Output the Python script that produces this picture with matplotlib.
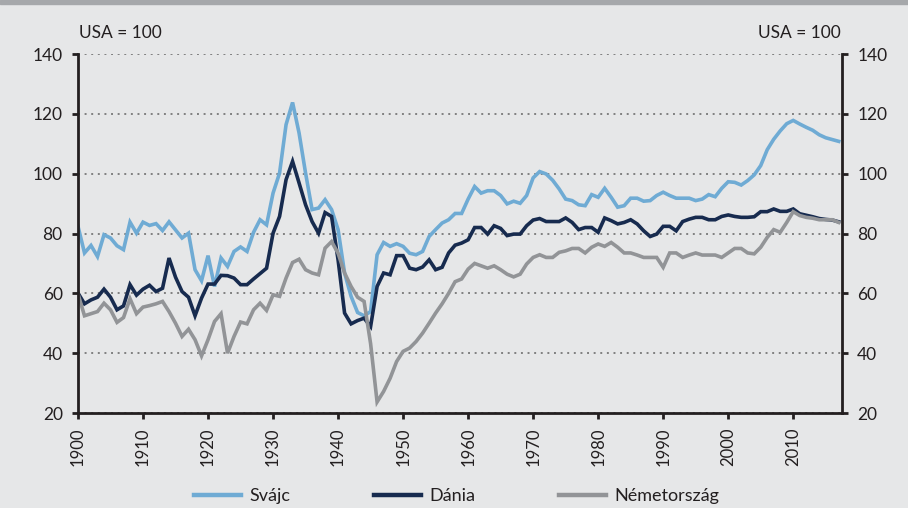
import numpy as np
import matplotlib.pyplot as plt
from matplotlib.patches import Rectangle

# GDP per capita relative to the USA (USA = 100), 1900-2017
years = np.arange(1900, 2018)

svajc = [82.4, 73.5, 76.0, 72.3, 79.6, 78.5, 75.9, 74.6, 83.8, 80.1,
         83.8, 82.7, 83.3, 81.0, 83.9, 81.2, 78.5, 80.1, 67.9, 64.2,
         72.6, 62.3, 71.8, 69.0, 74.0, 75.5, 74.0, 80.4, 84.6, 82.9,
         93.5, 100.2, 116.4, 123.8, 113.6, 100.2, 88.0, 88.5, 91.3, 88.0,
         81.3, 66.8, 59.0, 53.6, 52.5, 53.9, 72.9, 77.0, 75.7, 76.6,
         75.7, 73.4, 72.9, 74.0, 79.0, 81.3, 83.5, 84.6, 86.7, 86.7,
         91.5, 95.7, 93.5, 94.3, 94.3, 92.7, 89.9, 90.8, 90.1, 92.7,
         98.6, 100.7, 99.9, 97.8, 94.9, 91.5, 91.0, 89.6, 89.3, 93.0,
         92.1, 95.1, 92.1, 88.8, 89.3, 91.8, 91.8, 90.8, 91.0, 92.7,
         93.8, 92.7, 91.8, 91.8, 91.8, 91.0, 91.5, 93.0, 92.3, 95.1,
         97.3, 97.1, 96.2, 97.7, 99.6, 102.7, 108.0, 111.5, 114.3, 116.7,
         117.8, 116.6, 115.5, 114.5, 113.0, 112.0, 111.4, 110.8]

dania = [60.1, 56.5, 57.8, 58.7, 61.4, 58.7, 54.5, 55.8, 62.9, 59.4,
         61.4, 62.7, 60.6, 61.7, 71.8, 65.4, 60.6, 58.7, 52.5, 58.4,
         63.1, 63.1, 66.0, 65.9, 65.1, 62.9, 62.9, 64.8, 66.6, 68.4,
         80.1, 85.7, 98.0, 104.1, 96.9, 89.6, 84.0, 80.1, 87.0, 85.7,
         71.2, 53.4, 49.8, 50.9, 51.7, 48.9, 62.3, 66.8, 66.2, 72.6,
         72.6, 68.4, 67.9, 68.8, 71.2, 67.9, 68.7, 73.5, 76.1, 76.8,
         77.9, 82.0, 82.0, 79.8, 82.6, 81.7, 79.3, 79.8, 79.8, 82.6,
         84.5, 85.0, 84.0, 84.0, 84.0, 85.2, 83.7, 81.3, 82.0, 82.0,
         80.4, 85.2, 84.3, 83.2, 83.7, 84.6, 83.2, 80.9, 79.0, 79.8,
         82.4, 82.4, 80.9, 84.0, 84.8, 85.4, 85.4, 84.6, 84.6, 85.7,
         86.2, 85.7, 85.4, 85.4, 85.6, 87.3, 87.3, 88.2, 87.4, 87.4,
         88.2, 86.6, 86.1, 85.6, 85.0, 84.7, 84.5, 83.9]

nemet = [59.8, 52.5, 53.2, 53.9, 56.7, 54.5, 50.3, 51.9, 58.2, 53.2,
         55.4, 55.9, 56.5, 57.3, 53.9, 50.0, 45.6, 48.0, 44.5, 39.1,
         44.5, 50.6, 53.2, 40.0, 45.6, 50.4, 49.8, 54.5, 56.7, 54.3,
         59.5, 59.0, 65.1, 70.3, 71.4, 67.9, 66.8, 66.2, 75.1, 77.3,
         73.4, 66.8, 62.3, 58.7, 57.3, 43.2, 23.7, 27.2, 31.6, 37.2,
         40.6, 41.7, 43.9, 46.7, 50.0, 53.4, 56.5, 60.0, 63.9, 64.8,
         68.1, 70.0, 69.2, 68.4, 69.2, 67.9, 66.4, 65.5, 66.4, 69.8,
         72.0, 72.9, 72.0, 72.0, 73.7, 74.2, 75.0, 75.0, 73.5, 75.4,
         76.5, 75.7, 77.0, 75.4, 73.5, 73.5, 72.8, 72.0, 72.0, 72.0,
         68.7, 73.5, 73.5, 72.0, 72.8, 73.5, 72.8, 72.8, 72.8, 72.0,
         73.5, 75.0, 75.0, 73.5, 73.2, 75.4, 78.7, 81.3, 80.4, 83.7,
         87.3, 86.0, 85.4, 85.1, 84.6, 84.6, 84.6, 83.7]

labels = ['Svájc', 'Dánia', 'Németország']
colors = ['#6fabd4', '#172b4f', '#929497']

plt.rcParams['font.family'] = ['Lato', 'DejaVu Sans']
bg = '#e6e7e8'
dark = '#231f20'

fig = plt.figure(figsize=(9.08, 5.08), dpi=100)
fig.patch.set_facecolor(bg)
ax = fig.add_axes([0.0859, 0.187, 0.8414, 0.7067])
ax.set_facecolor(bg)

# thin grey band on the top edge
fig.patches.append(Rectangle((0, 1 - 4 / 508), 1, 4 / 508, transform=fig.transFigure,
                             color='#a6a8ab', zorder=0))

for series, lab, col in zip([svajc, dania, nemet], labels, colors):
    ax.plot(years, series, color=col, lw=2.6, label=lab, solid_joinstyle='miter', zorder=3)

ax.set_xlim(1900, 2017.5)
ax.set_ylim(20, 140)
ax.set_yticks(np.arange(20, 141, 20))
ax.set_xticks(np.arange(1900, 2011, 10))
ax.set_xticklabels([str(y) for y in range(1900, 2011, 10)], rotation=90)

ax.yaxis.grid(True, linestyle=(0, (1, 2.4)), color='#808080', linewidth=1.4)
ax.set_axisbelow(True)

ax.spines['top'].set_visible(False)
for s in ['left', 'right', 'bottom']:
    ax.spines[s].set_linewidth(2)
    ax.spines[s].set_color(dark)
    ax.spines[s].set_zorder(4)

ax.tick_params(axis='y', left=True, right=True, labelleft=True, labelright=True,
               direction='out', length=4, width=2, color=dark, labelsize=12.5,
               labelcolor=dark, pad=7)
ax.tick_params(axis='x', direction='out', length=4.5, width=2, color=dark,
               labelsize=12, labelcolor=dark, pad=6)

ax.annotate('USA = 100', xy=(0, 1), xycoords='axes fraction', xytext=(1, 15),
            textcoords='offset points', ha='left', va='center', fontsize=12.5, color=dark)
ax.annotate('USA = 100', xy=(1, 1), xycoords='axes fraction', xytext=(-1, 15),
            textcoords='offset points', ha='right', va='center', fontsize=12.5, color=dark)

leg = fig.legend(loc='center', bbox_to_anchor=(0.503, 0.023), ncol=3, frameon=False,
                 handlelength=2.6, columnspacing=4.6, handletextpad=0.5, fontsize=13)
for line in leg.get_lines():
    line.set_linewidth(3.2)
for t in leg.get_texts():
    t.set_color(dark)

fig.savefig('out.png', dpi=100, facecolor=bg)
